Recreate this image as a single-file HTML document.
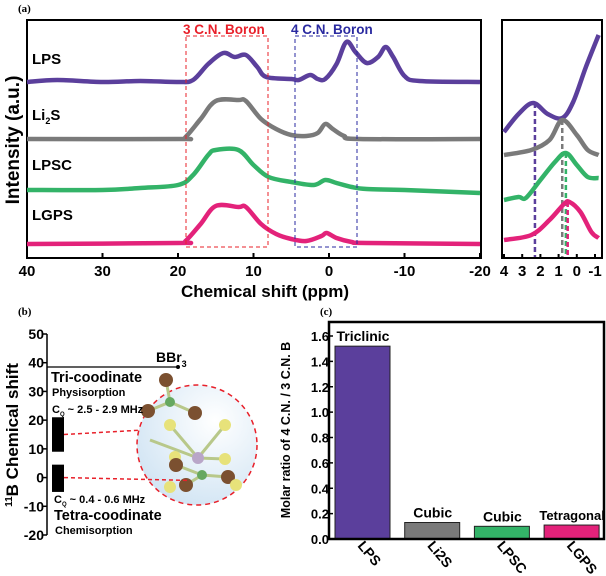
<!DOCTYPE html>
<html><head><meta charset="utf-8"><style>
body{margin:0;background:#fff}
svg{display:block;font-family:"Liberation Sans",sans-serif;font-weight:bold}
</style></head><body>
<svg id="fig" width="606" height="576" viewBox="0 0 606 576">
<defs><radialGradient id="bub" cx="0.65" cy="0.3" r="0.8"><stop offset="0" stop-color="#fff"/><stop offset="1" stop-color="#cfe3f3"/></radialGradient></defs>
<text x="18" y="12" font-family="Liberation Serif" font-size="11">(a)</text>
<rect x="27" y="20" width="454" height="238" fill="none" stroke="#000" stroke-width="2"/>
<rect x="502" y="20" width="100" height="238" fill="none" stroke="#000" stroke-width="2"/>
<text transform="translate(19,140) rotate(-90)" text-anchor="middle" font-size="19">Intensity (a.u.)</text>
<text x="265" y="297" text-anchor="middle" font-size="17">Chemical shift (ppm)</text>
<g id="mainG"></g>
<g id="insetG"></g>
<rect x="186" y="36" width="82" height="211" fill="none" stroke="#e8202a" stroke-dasharray="4,3" stroke-width="1"/>
<rect x="295" y="36" width="62" height="211" fill="none" stroke="#2a2aa0" stroke-dasharray="4,3" stroke-width="1"/>
<text x="183" y="34" font-size="13.5" fill="#e8202a">3 C.N. Boron</text>
<text x="291" y="34" font-size="13.5" fill="#2a2aa0">4 C.N.  Boron</text>
<text x="32" y="64" font-size="15">LPS</text>
<text x="32" y="120" font-size="15">Li<tspan font-size="9" dy="4">2</tspan><tspan dy="-4">S</tspan></text>
<text x="32" y="170" font-size="15">LPSC</text>
<text x="32" y="220" font-size="15">LGPS</text>

<text x="18" y="315" font-family="Liberation Serif" font-size="11">(b)</text>
<g id="bG"></g>
<text x="320" y="315" font-family="Liberation Serif" font-size="11">(c)</text>
<text transform="translate(290,430) rotate(-90)" text-anchor="middle" font-size="12.5">Molar ratio of 4 C.N. / 3 C.N. B</text>
<g id="cG"></g>
<rect x="329" y="322" width="275" height="217" fill="none" stroke="#000" stroke-width="2.5"/>
</svg>
<script>
const NS="http://www.w3.org/2000/svg";
function mk(tag,attrs,parent,txt){const e=document.createElementNS(NS,tag);for(const k in attrs)e.setAttribute(k,attrs[k]);if(txt!==undefined)e.textContent=txt;parent.appendChild(e);return e;}

const seriesNames=["LPS","Li2S","LPSC","LGPS"];
const seriesColors=["#5b3f9c","#7a7a7a","#33b368","#e3227a"];
const baselines=[82,139,195,244];
const lpsSpec=[[40,0],[36,2],[30,0],[25,1],[20,0],[18,2],[16,18],[14,29],[12.5,25],[11,27],[9.5,15],[8.3,5],[5,3],[4,2],[2.5,7],[1.5,3],[0.5,3],[-1,18],[-2.3,40],[-3.5,30],[-5,19],[-6.5,25],[-7.5,35],[-8.5,25],[-10,6],[-12,1],[-20,0]];
const li2sSpec=[[40,0],[20,0],[19,2],[17,20],[15,38],[12,39],[11,38],[9,20],[7,10],[5,4],[3,3],[1.5,6],[0.5,15],[-0.5,10],[-2,3],[-4,0],[-20,0]];
const lpscSpec=[[40,5],[30,5],[25,7],[20,10],[18,20],[16,40],[15,45],[12,45],[10,30],[8,18],[5,13],[2,10],[0.5,15],[-1,12],[-3,8],[-5,6],[-10,5],[-20,2]];
const lgpsSpec=[[40,0],[20,1],[19,3],[17,20],[15,38],[12,37],[11,37],[9,20],[7,10],[5,5],[3,3],[1,8],[0.3,11],[-1,6],[-3,2],[-5,1],[-20,0]];
const mainTicks=[40,30,20,10,0,-10,-20];
const insetBase=[132,155,200,240];
const lpsInset=[[4,0],[3.2,18],[2.4,29],[1.6,18],[0.8,14],[0.2,30],[-0.5,65],[-1.2,97]];
const li2sInset=[[4,0],[2.5,5],[1.5,15],[0.8,35],[0,20],[-0.6,5],[-1.2,0]];
const lpscInset=[[4,0],[3.2,3],[2.8,2],[2,20],[1.2,38],[0.6,47],[0,35],[-0.6,23],[-1.2,22]];
const lgpsInset=[[4,0],[2.5,5],[1.5,20],[0.7,36],[0.4,38],[-0.2,28],[-0.8,8],[-1.2,2]];
const insetPeaks=[2.3,0.8,0.6,0.5];
const insetTicks=[4,3,2,1,0,-1];

const xMain=p=>27+(40-p)*(453/60);
const xIns=p=>504+(4-p)*18.2;
function smoothPath(pts){let d="M"+pts[0][0]+","+pts[0][1];for(let i=0;i<pts.length-1;i++){const p0=pts[i-1]||pts[i],p1=pts[i],p2=pts[i+1],p3=pts[i+2]||p2;
d+=" C"+(p1[0]+(p2[0]-p0[0])/6)+","+(p1[1]+(p2[1]-p0[1])/6)+" "+(p2[0]-(p3[0]-p1[0])/6)+","+(p2[1]-(p3[1]-p1[1])/6)+" "+p2[0]+","+p2[1];}return d;}
const mainG=document.getElementById("mainG"),insetG=document.getElementById("insetG"),fig=document.getElementById("fig");
const specs=[lpsSpec,li2sSpec,lpscSpec,lgpsSpec],insets=[lpsInset,li2sInset,lpscInset,lgpsInset];
specs.forEach((s,i)=>{
  const p=mk("path",{d:smoothPath(s.map(q=>[xMain(q[0]),baselines[i]-q[1]])),fill:"none",stroke:seriesColors[i],"stroke-width":4.5,"stroke-linejoin":"round"},mainG);
  
  
});
insets.forEach((s,i)=>{
  const pk=insetPeaks[i];
  let top=insetBase[i]-Math.max(...s.map(q=>q[1]));
  const l=mk("line",{x1:xIns(pk),x2:xIns(pk),y1:i==0?103:top,y2:257,stroke:seriesColors[i],"stroke-width":2.5,"stroke-dasharray":"5,3"},insetG);
  
  
});
insets.forEach((s,i)=>{
  const p=mk("path",{d:smoothPath(s.map(q=>[xIns(q[0]),insetBase[i]-q[1]])),fill:"none",stroke:seriesColors[i],"stroke-width":4.5},insetG);
  
  
});
mainTicks.forEach(t=>{
  const x=xMain(t);
  const tl=mk("line",{x1:x,x2:x,y1:258,y2:253,stroke:"#000","stroke-width":2},fig);
  
  
  const tx=mk("text",{x:x,y:276,"text-anchor":"middle","font-size":15},fig,String(t));
  
  
});
insetTicks.forEach(t=>{
  const x=xIns(t);
  const tl=mk("line",{x1:x,x2:x,y1:258,y2:254,stroke:"#000","stroke-width":2},fig);
  
  
  const tx=mk("text",{x:x,y:276,"text-anchor":"middle","font-size":15},fig,String(t));
  
  
});

const bTicks=[50,40,30,20,10,0,-10,-20];
const yB=v=>535-(v+20)*(201/70);
const bG=document.getElementById("bG");
const ax=mk("line",{x1:47,x2:47,y1:yB(50),y2:yB(-20),stroke:"#000","stroke-width":1.5},bG);


bTicks.forEach(t=>{
  const tl=mk("line",{x1:43,x2:47,y1:yB(t),y2:yB(t),stroke:"#000","stroke-width":1.5},bG);
  
  
  const tx=mk("text",{x:44,y:yB(t)+5,"text-anchor":"end","font-size":14},bG,String(t));
  
  
});
const bt=mk("text",{transform:"translate(18,435) rotate(-90)","text-anchor":"middle","font-size":17},bG);


bt.innerHTML='<tspan font-size="10" dy="-6">11</tspan><tspan dy="6">B Chemical shift</tspan>';
const bbr=mk("line",{x1:47,x2:178,y1:yB(38.5),y2:yB(38.5),stroke:"#000","stroke-width":1.2},bG);

const dot=mk("circle",{cx:178,cy:yB(38.5),r:2},bG);

const bl=mk("text",{x:156,y:362,"font-size":14},bG);

bl.innerHTML='BBr<tspan font-size="9" dy="5">3</tspan>';
const bc=mk("circle",{cx:197,cy:445,r:60,fill:"url(#bub)",stroke:"#e8202a","stroke-width":1.5,"stroke-dasharray":"5,4"},bG);

const bonds=[[170,402,166,380],[170,402,148,411],[170,402,195,413],[170,425,198,458],[198,458,225,425],[198,458,225,459],[202,475,176,465],[202,475,228,477],[202,475,186,485],[150,440,198,458]];
bonds.forEach(b=>{const l=mk("line",{x1:b[0],y1:b[1],x2:b[2],y2:b[3],stroke:"#b8c88a","stroke-width":3},bG);});
const atoms=[[170,402,5,"#66a860"],[166,380,7,"#7b5030"],[148,411,7,"#7b5030"],[195,413,7,"#7b5030"],[170,425,6,"#e7e27a"],[225,425,6,"#e7e27a"],[198,458,6,"#b9a6c8"],[175,457,6,"#e7e27a"],[225,459,6,"#e7e27a"],[176,465,7,"#7b5030"],[202,475,5,"#66a860"],[228,477,7,"#7b5030"],[186,485,7,"#7b5030"],[170,487,6,"#e7e27a"],[236,485,6,"#e7e27a"]];
atoms.forEach(a=>{const c=mk("circle",{cx:a[0],cy:a[1],r:a[2],fill:a[3]},bG);});
const r1=mk("rect",{x:52,y:yB(21),width:12,height:yB(9)-yB(21),fill:"#000"},bG);

const r2=mk("rect",{x:52,y:yB(4.5),width:12,height:yB(-5)-yB(4.5),fill:"#000"},bG);

const d1=mk("path",{d:"M64,"+yB(15)+" L140,"+yB(16.5),stroke:"#e8202a","stroke-width":1.5,"stroke-dasharray":"4,3",fill:"none"},bG);

const d2=mk("path",{d:"M64,"+yB(0)+" L190,"+yB(-1),stroke:"#e8202a","stroke-width":1.5,"stroke-dasharray":"4,3",fill:"none"},bG);

[["Tri-coodinate",51,382,14.5,"tri-coordinate-label"],["Physisorption",52,396,11,"physisorption-label"],["Tetra-coodinate",54,520,14.5,"tetra-coordinate-label"],["Chemisorption",55,534,11,"chemisorption-label"]].forEach(t=>{
  const e=mk("text",{x:t[1],y:t[2],"font-size":t[3]},bG,t[0]);
  
});
const cq1=mk("text",{x:52,y:413,"font-size":11},bG);cq1.innerHTML='C<tspan font-size="6" dy="3">Q</tspan><tspan dy="-3"> ~ 2.5 - 2.9 MHz</tspan>';

const cq2=mk("text",{x:54,y:503,"font-size":11},bG);cq2.innerHTML='C<tspan font-size="6" dy="3">Q</tspan><tspan dy="-3"> ~ 0.4 - 0.6 MHz</tspan>';


const cCats=["LPS","Li2S","LPSC","LGPS"];
const cVals=[1.52,0.13,0.10,0.11];
const cPhase=["Triclinic","Cubic","Cubic","Tetragonal"];
const cTicks=[0.0,0.2,0.4,0.6,0.8,1.0,1.2,1.4,1.6];
const yC=v=>539-v*(203/1.6);
const cG=document.getElementById("cG");
cTicks.forEach(t=>{
  const tl=mk("line",{x1:329,x2:333,y1:yC(t),y2:yC(t),stroke:"#000","stroke-width":1.5},cG);
  
  const tx=mk("text",{x:329,y:yC(t)+5,"text-anchor":"end","font-size":13},cG,t.toFixed(1));
  
});
cVals.forEach((v,i)=>{
  const x=335+i*69.7;
  const b=mk("rect",{x:x,y:yC(v),width:55,height:539-yC(v),fill:seriesColors[i],stroke:"#222","stroke-width":1},cG);
  
  const ph=mk("text",{x:x+28,y:yC(v)-5,"text-anchor":"middle","font-size":i==3?13:14},cG,cPhase[i]);
  
  const cl=mk("text",{x:0,y:0,"font-size":14,transform:"translate("+(x+22)+",546) rotate(50)"},cG,cCats[i]);
  
});
</script>
</body></html>
